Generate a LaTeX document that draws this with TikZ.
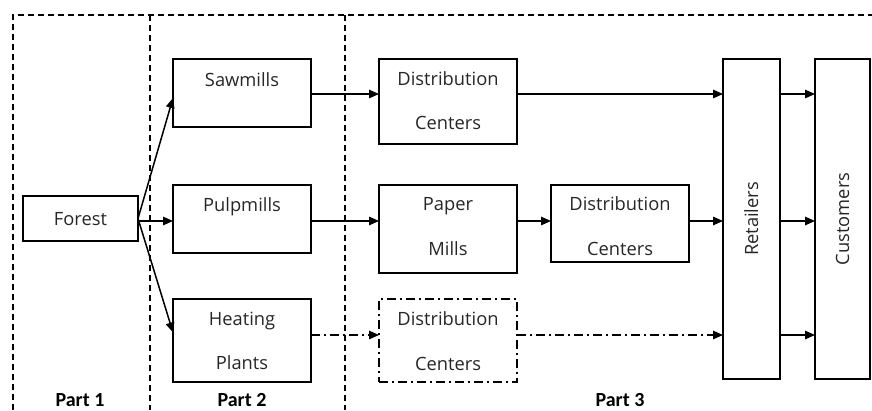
\documentclass[tikz,border=0pt]{standalone}
\usepackage{fontspec}
\setmainfont{Open Sans}
\newfontfamily\partfont{Carlito}
\usetikzlibrary{arrows.meta}
\begin{document}
\begin{tikzpicture}[x=1pt,y=-1pt,
  box/.style={draw=black,line width=1.8pt,minimum width=#1,inner sep=0pt,outer sep=0pt},
  txt/.style={inner sep=0pt,text height=13pt,text depth=0pt,text=black!85,font=\fontsize{18.3}{22}\selectfont},
  parttxt/.style={inner sep=0pt,text height=13pt,text depth=0pt,text=black,font=\partfont\fontsize{20}{24}\selectfont\bfseries},
  frame/.style={line width=1.3pt,dash pattern=on 6pt off 4pt},
  arr/.style={line width=1.5pt,-{Triangle[length=10pt,width=8.5pt]}},
  dd/.style={line width=1.5pt,dash pattern=on 9pt off 4pt on 2pt off 4pt},
  ddarr/.style={dd,-{Triangle[length=10pt,width=8.5pt]}}
]
\useasboundingbox (0,0) rectangle (872,410);
% frame
\draw[frame] (13,410) -- (13,15) -- (872,15);
\draw[frame] (150,15) -- (150,410);
\draw[frame] (345,15) -- (345,410);
% boxes
\node[box=115pt,minimum height=45pt] (forest) at (80.5,218.5) {};
\node[box=138pt,minimum height=68pt] (saw) at (242,93) {};
\node[box=138pt,minimum height=68pt] (pulp) at (242,219) {};
\node[box=138pt,minimum height=83pt] (heat) at (242,340.5) {};
\node[box=138pt,minimum height=85pt] (dc1) at (448,101.5) {};
\node[box=138pt,minimum height=88pt] (paper) at (448,229) {};
\node[box=138pt,minimum height=77pt] (dc2) at (620,223.5) {};
\node[box=138pt,minimum height=83pt,line width=1.5pt,dash pattern=on 9pt off 4pt on 2pt off 4pt] (dc3) at (448,340.5) {};
\node[box=57pt,minimum height=320pt] (ret) at (751.5,219) {};
\node[box=55pt,minimum height=320pt] (cust) at (842.5,219) {};
% texts
\node[txt] at (forest) {Forest};
\node[txt] at (242,80) {Sawmills};
\node[txt] at (242,205) {Pulpmills};
\node[txt] at (242,319) {Heating};
\node[txt] at (242,363) {Plants};
\node[txt] at (448,79) {Distribution};
\node[txt] at (448,123) {Centers};
\node[txt] at (448,204) {Paper};
\node[txt] at (448,249) {Mills};
\node[txt] at (620,204) {Distribution};
\node[txt] at (620,249) {Centers};
\node[txt] at (448,319) {Distribution};
\node[txt] at (448,364) {Centers};
\node[txt,rotate=90] at (ret) {Retailers};
\node[txt,rotate=90] at (cust) {Customers};
\node[parttxt] at (80,400) {Part 1};
\node[parttxt] at (242,400) {Part 2};
\node[parttxt] at (620,400) {Part 3};
% row coordinates
\coordinate (r1) at (0,94);
\coordinate (r2) at (0,221);
\coordinate (r3) at (0,335);
% arrows
\draw[arr] (forest.east) -- ([yshift=-5pt]saw.west);
\draw[arr] (forest.east |- r2) -- (pulp.west |- r2);
\draw[arr] (forest.east) -- ([yshift=8pt]heat.west);
\draw[arr] (saw.east |- r1) -- (dc1.west |- r1);
\draw[arr] (dc1.east |- r1) -- (ret.west |- r1);
\draw[arr] (pulp.east |- r2) -- (paper.west |- r2);
\draw[arr] (paper.east |- r2) -- (dc2.west |- r2);
\draw[arr] (dc2.east |- r2) -- (ret.west |- r2);
\draw[ddarr] (heat.east |- r3) -- (dc3.west |- r3);
\draw[ddarr] (dc3.east |- r3) -- (ret.west |- r3);
\draw[arr] (ret.east |- r1) -- (cust.west |- r1);
\draw[arr] (ret.east |- r2) -- (cust.west |- r2);
\draw[arr] (ret.east |- r3) -- (cust.west |- r3);
\end{tikzpicture}
\end{document}
